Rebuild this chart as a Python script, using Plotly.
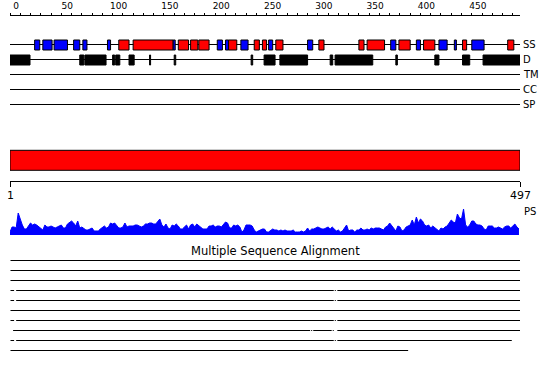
import plotly.graph_objects as go

SEQ_LEN = 497

# Secondary structure elements (residue start, end, type: H = helix, E = strand)
ss_start = [24, 32, 43, 62, 71, 95, 106, 120, 159, 164, 176, 184, 202, 210, 213, 225, 238, 246, 252, 259,
            290, 301, 340, 348, 371, 379, 396, 403, 418, 433, 441, 450, 485]
ss_end = [29, 41, 56, 68, 75, 98, 116, 159, 161, 174, 183, 194, 207, 213, 221, 232, 243, 250, 256, 266,
          295, 306, 345, 365, 376, 390, 400, 414, 426, 435, 445, 462, 491]
ss_type = ["E", "E", "E", "E", "E", "E", "H", "H", "E", "H", "H", "H", "E", "E", "H", "E", "H", "H", "E", "H",
           "E", "H", "H", "H", "E", "H", "E", "H", "E", "E", "H", "E", "H"]

# Disordered regions
d_start = [0, 68, 73, 100, 103, 116, 136, 160, 235, 247.6, 263, 312, 316.8, 376, 414, 441, 461]
d_end = [19.5, 72, 93.6, 102, 107, 121, 137, 161.5, 236.5, 258.3, 290, 314.5, 353.5, 377.5, 418, 448, 497]

# Domain boundaries
dom_start = [0]
dom_end = [497]

# Per-residue profile (sampled every 2 residues)
ps_step = 2
ps_values = [
    3, 8, 8, 7, 22, 15, 10, 6, 6, 9, 12, 10, 11, 10, 8, 7, 5, 10, 8, 8, 9, 8, 7, 8, 9, 10, 7, 7, 11, 13,
    14, 12, 9, 14, 7, 8, 6, 5, 5, 6, 7, 4, 4, 4, 6, 8, 9, 7, 8, 12, 11, 12, 9, 7, 7, 8, 12, 8, 9, 9, 9,
    10, 10, 9, 8, 9, 11, 11, 12, 12, 11, 11, 13, 16, 10, 8, 11, 7, 6, 10, 9, 11, 9, 6, 6, 8, 10, 6, 10, 11, 8,
    11, 9, 8, 6, 6, 6, 9, 9, 10, 8, 9, 9, 8, 10, 13, 12, 7, 7, 10, 9, 10, 8, 3, 5, 10, 10, 10, 9, 5, 3, 4, 5, 6,
    6, 3, 3, 5, 6, 5, 5, 4, 5, 4, 5, 4, 4, 4, 5, 3, 3, 3, 4, 3, 4, 7, 4, 6, 6, 7, 8, 7, 6, 6, 7, 8, 6, 8, 6,
    4, 5, 3, 4, 7, 10, 4, 5, 5, 3, 5, 5, 7, 5, 5, 6, 5, 7, 6, 7, 7, 7, 6, 5, 8, 9,
    12, 9, 6, 4, 9, 8, 4, 5, 8, 9, 10, 15, 10, 18, 12, 16, 14, 10, 9, 10, 7, 9, 7, 5, 4, 7, 6, 8, 9, 12,
    15, 13, 12, 21, 17, 16, 26, 10, 8, 10, 14, 14, 11, 10, 10, 9, 6, 5, 9, 9, 9, 7, 7, 8, 7, 6, 8, 9, 9, 7,
    9, 11, 8, 6,
]

# Multiple sequence alignment coverage segments (one list per aligned sequence)
msa_rows = [
    [(0.5, 497)],
    [(0.5, 497)],
    [(0.5, 497)],
    [(0.5, 4), (6, 315.5), (316.5, 317.5), (319, 497)],
    [(0.5, 4), (6, 315.5), (316.5, 317.5), (319, 497)],
    [(0.5, 497)],
    [(0.5, 4), (6, 315.5), (316.5, 317.5), (319, 497)],
    [(3, 292.5), (293.5, 294.5), (295.5, 313.5), (314.5, 315.5), (319, 497)],
    [(0.5, 4), (6, 315.5), (316.5, 317.5), (319, 489)],
    [(0.5, 388)],
]

track_labels = ["SS", "D", "TM", "CC", "SP"]
ruler_vals = [0, SEQ_LEN]
ruler_labels = ["1", "497"]

# ---- layout constants (pixels from top) ----
W, H = 550, 380
PX_L, PX_R = 10, 520
track_y = [44.5, 59.5, 74.5, 89.5, 104.5]
SS_Y, D_Y, BOX_H = 45, 60, 10
DOM_Y, DOM_H = 160.3, 20
PS_BOTTOM, PS_TOP = 235, 205
MSA_Y0, MSA_DY = 260.5, 10
COL = {"H": "#ff0000", "E": "#0000ff"}
FONT = "DejaVu Sans"

fig = go.Figure()

# baseline lines for tracks
shapes = []
for ty in track_y:
    shapes.append(dict(type="line", xref="x", yref="y", x0=0, x1=SEQ_LEN, y0=ty, y1=ty,
                       line=dict(color="black", width=1), layer="below"))

# secondary structure boxes
fig.add_trace(go.Bar(
    orientation="h", y=[SS_Y] * len(ss_start), base=ss_start,
    x=[e - s for s, e in zip(ss_start, ss_end)], width=BOX_H,
    marker=dict(color=[COL[t] for t in ss_type], line=dict(color="black", width=1)),
    xaxis="x", yaxis="y", hoverinfo="skip"))

# disorder boxes
fig.add_trace(go.Bar(
    orientation="h", y=[D_Y] * len(d_start), base=d_start,
    x=[e - s for s, e in zip(d_start, d_end)], width=BOX_H,
    marker=dict(color="black", line=dict(color="black", width=1)),
    xaxis="x", yaxis="y", hoverinfo="skip"))

# domain bar
fig.add_trace(go.Bar(
    orientation="h", y=[DOM_Y] * len(dom_start), base=dom_start,
    x=[e - s for s, e in zip(dom_start, dom_end)], width=DOM_H,
    marker=dict(color="#ff0000", line=dict(color="black", width=1)),
    xaxis="x", yaxis="y", hoverinfo="skip"))

# profile
ps_x = [i * ps_step for i in range(len(ps_values))]
fig.add_trace(go.Scatter(
    x=ps_x, y=ps_values, mode="lines", fill="tozeroy",
    line=dict(color="#0000ff", width=1), fillcolor="#0000ff",
    xaxis="x", yaxis="y2", hoverinfo="skip"))

# MSA lines
for i, row in enumerate(msa_rows):
    xs, ys = [], []
    yy = MSA_Y0 + i * MSA_DY
    for s, e in row:
        xs += [s, e, None]
        ys += [yy, yy, None]
    fig.add_trace(go.Scatter(x=xs, y=ys, mode="lines", line=dict(color="black", width=1),
                             xaxis="x", yaxis="y", hoverinfo="skip"))

# invisible trace so the top ruler axis is instantiated
fig.add_trace(go.Scatter(x=[0, SEQ_LEN], y=[None, None], mode="lines", xaxis="x2", yaxis="y",
                         hoverinfo="skip", showlegend=False))

annotations = []
for lab, ty in zip(track_labels, track_y):
    annotations.append(dict(text=lab, xref="paper", yref="y", x=(PX_R + 1) / W, y=ty,
                            xanchor="left", yanchor="middle", showarrow=False,
                            font=dict(family=FONT, size=10, color="black")))
for v, lab in zip(ruler_vals, ruler_labels):
    annotations.append(dict(text=lab, xref="x", yref="y", x=v, y=195,
                            xanchor="center", yanchor="middle", showarrow=False,
                            font=dict(family=FONT, size=11, color="black")))
annotations.append(dict(text="PS", xref="paper", yref="y", x=(PX_R + 2) / W, y=211,
                        xanchor="left", yanchor="middle", showarrow=False,
                        font=dict(family=FONT, size=10, color="black")))
annotations.append(dict(text="Multiple Sequence Alignment", xref="paper", yref="y", x=275 / W, y=250.5,
                        xanchor="center", yanchor="middle", showarrow=False,
                        font=dict(family=FONT, size=11.5, color="black")))

fig.update_layout(
    template="none",
    width=W, height=H, margin=dict(l=0, r=0, t=0, b=0, pad=0, autoexpand=False),
    paper_bgcolor="white", plot_bgcolor="white", showlegend=False, barmode="overlay",
    font=dict(family=FONT, color="black"),
    shapes=shapes, annotations=annotations,
    xaxis=dict(domain=[PX_L / W, PX_R / W], range=[0, SEQ_LEN], anchor="free", automargin=False,
               position=1 - 180.5 / H, side="bottom", showgrid=False, zeroline=False,
               showline=True, linecolor="black", linewidth=1,
               ticks="outside", ticklen=5, tickcolor="black", tickwidth=1,
               tickmode="array", tickvals=ruler_vals, showticklabels=False),
    xaxis2=dict(overlaying="x", range=[0, SEQ_LEN], anchor="free", position=1 - 14.5 / H,
                automargin=False,
                side="top", showgrid=False, zeroline=False, showline=True,
                linecolor="black", linewidth=1, ticks="outside", ticklen=2,
                tickcolor="black", tickwidth=1, tickmode="linear", tick0=0, dtick=50,
                minor=dict(tick0=0, dtick=10, ticks="outside", ticklen=2,
                           tickcolor="black", tickwidth=1, showgrid=False),
                ticklabelshift=6, ticklabelstandoff=0,
                tickfont=dict(family=FONT, size=9, color="black")),
    yaxis=dict(domain=[0, 1], range=[H, 0], visible=False, anchor="x", automargin=False),
    yaxis2=dict(domain=[1 - PS_BOTTOM / H, 1 - PS_TOP / H], range=[0, PS_BOTTOM - PS_TOP],
                visible=False, anchor="x", automargin=False),
)

fig.write_html("out.html")
